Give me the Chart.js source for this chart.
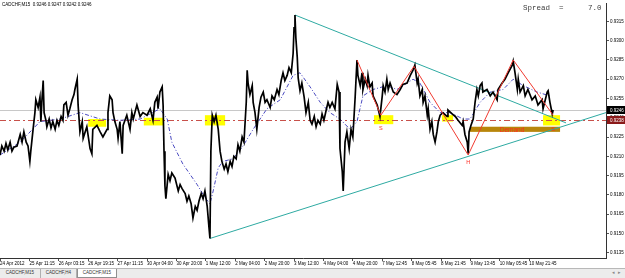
<!DOCTYPE html>
<html>
<head>
<meta charset="utf-8">
<script src="https://cdn.jsdelivr.net/npm/chart.js@4.4.0/dist/chart.umd.min.js"></script>
<style>
  html, body { margin: 0; padding: 0; background: #fff; }
  #wrap { position: relative; width: 625px; height: 278px; overflow: hidden; }
  canvas { display: block; }
  #tabs { position: absolute; left: 0; top: 268px; width: 625px; height: 10px; background: #ececec; border-top: 1px solid #b8b8b8; box-sizing: border-box; font: 4.5px "Liberation Sans", Arial, sans-serif; color: #333; }
  .tab { position: absolute; top: 0; height: 9px; line-height: 8px; text-align: center; border-right: 1px solid #b0b0b0; box-sizing: border-box; }
  .tab.active { background: #fff; border: 1px solid #909090; border-top: none; }
  #arrows { position: absolute; right: 4px; top: 0; line-height: 8px; color: #888; }
</style>
</head>
<body>
<div id="wrap">
  <canvas id="chart" width="625" height="268"></canvas>
  <div id="tabs">
    <div class="tab" style="left:0;width:41px">CADCHF,M15</div>
    <div class="tab" style="left:41px;width:36px">CADCHF,H4</div>
    <div class="tab active" style="left:77px;width:40px">CADCHF,M15</div>
    <div id="arrows">&#9666;&nbsp;&nbsp;&#9656;</div>
  </div>
</div>
<script>
// M15 bar labels on the time axis, one every 64 bars
const timeLabels = ['24 Apr 2012', '25 Apr 11:15', '26 Apr 03:15', '26 Apr 19:15', '27 Apr 11:15',
    '30 Apr 04:00', '30 Apr 20:00', '1 May 12:00', '2 May 04:00', '2 May 20:00', '3 May 12:00',
    '4 May 04:00', '4 May 20:00', '7 May 12:45', '8 May 05:45', '8 May 21:45', '9 May 13:45',
    '10 May 05:45', '10 May 21:45'];
const barsPerLabel = 64;
const priceTicks = [0.9135, 0.9150, 0.9165, 0.9180, 0.9195, 0.9210, 0.9225, 0.9240,
    0.9255, 0.9270, 0.9285, 0.9300, 0.9315];

// CADCHF price path (bar index / price)
const priceBars = [0, 4, 9, 13, 17, 22, 26, 30, 37, 41, 44, 48, 52, 57, 61, 65,
    67, 72, 76, 78, 83, 87, 89, 91, 94, 96, 100,
    102, 107, 111, 115, 120, 124, 128, 133, 137,
    139, 144, 148, 152, 157, 161, 163, 168, 170, 174,
    179, 181, 189, 196, 200, 202, 211, 218, 224, 233, 235, 239, 244, 246, 250,
    255, 257, 261, 266, 268, 276, 283, 287, 290, 298, 305, 311, 320, 327, 333, 337, 342, 344, 348, 353, 355,
    357, 359, 361, 366, 370, 374, 381, 388, 392, 396, 403, 407, 411, 416, 420, 425, 429, 433, 438, 442, 446, 451, 455, 457,
    459, 462, 466, 470, 475, 479, 483, 488, 492, 496, 501, 505, 509, 514, 518, 522, 527, 531,
    536, 538, 540, 544, 549, 551, 555, 559, 564, 568, 573, 577, 581, 588, 592, 597, 603, 607, 612, 616, 620, 625, 629, 634, 638, 640, 642, 644, 647, 649,
    653, 657, 662, 666, 671, 675, 679, 684, 688, 692, 697, 701, 705, 710, 714, 718, 723, 729, 734, 738, 740, 745, 747, 751, 755, 760, 764, 768, 773, 777,
    779, 784, 788, 790, 795, 799, 801, 805, 810, 812, 821, 827, 832, 834, 838, 842, 845, 849, 856, 864, 871,
    877, 886, 893, 899, 903, 908, 910, 914, 919, 921, 925, 930, 932, 936, 940, 943, 947, 951, 954, 958,
    964, 973, 975, 984, 991, 997, 1006, 1008, 1012, 1017, 1019, 1021, 1025,
    1030, 1034, 1038, 1041, 1045, 1049, 1051, 1060, 1067, 1073, 1082, 1084, 1093, 1099, 1106, 1115, 1117,
    1121, 1126, 1128, 1132, 1139, 1143, 1149, 1158, 1165, 1171, 1180, 1182, 1191, 1193, 1197, 1202, 1204];
const priceValues = [0.9211, 0.9218, 0.9214, 0.9220, 0.9215, 0.9221, 0.9214, 0.9217, 0.9218, 0.9223, 0.9227, 0.9221, 0.9229, 0.9221, 0.9218, 0.9206,
    0.9214, 0.9231, 0.9244, 0.9254, 0.9248, 0.9256, 0.9237, 0.9252, 0.9269, 0.9244, 0.9238,
    0.9233, 0.9239, 0.9232, 0.9237, 0.9231, 0.9238, 0.9234, 0.9241, 0.9238,
    0.9250, 0.9252, 0.9242, 0.9247, 0.9254, 0.9258, 0.9262, 0.9270, 0.9250, 0.9229,
    0.9237, 0.9224, 0.9233, 0.9216, 0.9212, 0.9231, 0.9234, 0.9229, 0.9225, 0.9231, 0.9244, 0.9257, 0.9254, 0.9244, 0.9237,
    0.9231, 0.9224, 0.9237, 0.9212, 0.9234, 0.9242, 0.9231, 0.9244, 0.9239, 0.9250, 0.9241, 0.9244, 0.9242, 0.9247, 0.9238, 0.9252, 0.9256, 0.9247, 0.9260, 0.9264, 0.9250,
    0.9214, 0.9187, 0.9177, 0.9196, 0.9191, 0.9197, 0.9193, 0.9183, 0.9188, 0.9185, 0.9181, 0.9175, 0.9179, 0.9173, 0.9162, 0.9171, 0.9168, 0.9175, 0.9181, 0.9177, 0.9183, 0.9171, 0.9154, 0.9146,
    0.9214, 0.9242, 0.9237, 0.9242, 0.9231, 0.9214, 0.9206, 0.9200, 0.9204, 0.9198, 0.9206, 0.9202, 0.9210, 0.9208, 0.9219, 0.9214, 0.9225, 0.9221,
    0.9252, 0.9277, 0.9267, 0.9258, 0.9265, 0.9252, 0.9244, 0.9231, 0.9248, 0.9256, 0.9260, 0.9252, 0.9254, 0.9248, 0.9257, 0.9254, 0.9262, 0.9258, 0.9269, 0.9275, 0.9269, 0.9273, 0.9279, 0.9275, 0.9290, 0.9310, 0.9320, 0.9302, 0.9287, 0.9271,
    0.9261, 0.9267, 0.9256, 0.9244, 0.9252, 0.9238, 0.9235, 0.9241, 0.9233, 0.9238, 0.9235, 0.9243, 0.9238, 0.9246, 0.9252, 0.9248, 0.9252, 0.9247, 0.9266, 0.9260, 0.9216, 0.9198, 0.9183, 0.9221, 0.9229, 0.9216, 0.9231, 0.9225, 0.9256, 0.9285,
    0.9273, 0.9265, 0.9275, 0.9262, 0.9270, 0.9265, 0.9273, 0.9264, 0.9267, 0.9257, 0.9250, 0.9241, 0.9257, 0.9265, 0.9260, 0.9270, 0.9262, 0.9267, 0.9260, 0.9258, 0.9262,
    0.9266, 0.9267, 0.9273, 0.9277, 0.9281, 0.9267, 0.9270, 0.9257, 0.9262, 0.9252, 0.9257, 0.9242, 0.9247, 0.9231, 0.9237, 0.9227, 0.9221, 0.9229, 0.9237, 0.9242,
    0.9244, 0.9241, 0.9246, 0.9243, 0.9241, 0.9238, 0.9234, 0.9237, 0.9227, 0.9221, 0.9212, 0.9229, 0.9234,
    0.9239, 0.9252, 0.9262, 0.9257, 0.9265, 0.9267, 0.9260, 0.9262, 0.9257, 0.9260, 0.9254, 0.9262, 0.9267, 0.9270, 0.9275, 0.9281, 0.9284,
    0.9275, 0.9262, 0.9270, 0.9260, 0.9265, 0.9257, 0.9262, 0.9254, 0.9257, 0.9250, 0.9254, 0.9247, 0.9260, 0.9261, 0.9252, 0.9243, 0.9246];

// moving average (blue dash-dot)
const maBars = [0, 44, 87, 131, 174, 218, 261, 305, 348, 364, 374, 398, 429, 446, 457, 464, 475, 485, 507, 529,
    551, 581, 610, 638, 653, 675, 697, 718, 740, 762, 777, 790, 812, 842, 864, 899, 914, 936, 958, 980,
    1008, 1023, 1045, 1067, 1095, 1117, 1139, 1169, 1197];
const maValues = [0.9211, 0.9221, 0.9237, 0.9239, 0.9244, 0.9239, 0.9238, 0.9239, 0.9247, 0.9239, 0.9221, 0.9204, 0.9188, 0.9178, 0.9173, 0.9183, 0.9201, 0.9206, 0.9208, 0.9218,
    0.9231, 0.9247, 0.9254, 0.9273, 0.9275, 0.9264, 0.9252, 0.9244, 0.9239, 0.9231, 0.9237, 0.9257, 0.9262, 0.9265, 0.9262, 0.9270, 0.9267, 0.9252, 0.9244, 0.9244,
    0.9239, 0.9239, 0.9252, 0.9260, 0.9262, 0.9270, 0.9265, 0.9260, 0.9257];

// zigzag swing points (red)
const zigzagBars = [777, 829, 901, 1019, 1117, 1204];
const zigzagValues = [0.9285, 0.9242, 0.9280, 0.9211, 0.9285, 0.9242];

// triangle trend lines (teal)
const trendTopBars = [642, 1232];
const trendTopValues = [0.9320, 0.9236];
const trendLowBars = [457, 1319];
const trendLowValues = [0.9146, 0.9244];

// marked zones: [fromBar, toBar, upperPrice, lowerPrice]
const yellowZones = [[192, 231, 0.9239, 0.9233], [313, 355, 0.9240, 0.9234], [446, 490, 0.9242, 0.9234],
    [814, 856, 0.9242, 0.9235], [962, 986, 0.9242, 0.9237], [1182, 1219, 0.9242, 0.9234]];
const demandZone = [1023, 1219, 0.9233, 0.9229];
const patternMarks = [['S', 829, 0.9232], ['H', 1019, 0.9205], ['S', 1204, 0.9231]];

const bidPrice = 0.9246;
const levelPrice = 0.9238;
const ohlc = ['0.9246', '0.9247', '0.9242', '0.9246'];

const FONT = '"Liberation Sans", Arial, sans-serif';
const toPoints = (xs, ys) => xs.map((x, i) => ({ x: x, y: ys[i] }));

const overlay = {
    id: 'overlay',
    beforeDatasetsDraw(chart) {
        const { ctx, chartArea: a, scales: { x, y } } = chart;
        ctx.save();
        ctx.beginPath();
        ctx.rect(a.left, a.top, a.right - a.left, a.bottom - a.top);
        ctx.clip();

        // bid line
        let py = Math.round(y.getPixelForValue(bidPrice)) + 0.5;
        ctx.strokeStyle = '#c8c8c8';
        ctx.lineWidth = 1;
        ctx.beginPath(); ctx.moveTo(a.left, py); ctx.lineTo(a.right, py); ctx.stroke();

        // yellow boxes
        ctx.fillStyle = '#ffff00';
        yellowZones.forEach(z => {
            const x0 = x.getPixelForValue(z[0]), x1 = x.getPixelForValue(z[1]);
            const y0 = y.getPixelForValue(z[2]), y1 = y.getPixelForValue(z[3]);
            ctx.fillRect(x0, y0, x1 - x0, y1 - y0);
        });

        // demand zone
        ctx.fillStyle = '#b8860b';
        const dx0 = x.getPixelForValue(demandZone[0]), dx1 = x.getPixelForValue(demandZone[1]);
        const dy0 = y.getPixelForValue(demandZone[2]), dy1 = y.getPixelForValue(demandZone[3]);
        ctx.fillRect(dx0, dy0, dx1 - dx0, dy1 - dy0);

        // support level, dash-dot
        py = Math.round(y.getPixelForValue(levelPrice)) + 0.5;
        ctx.strokeStyle = '#c8504a';
        ctx.setLineDash([6, 3, 2, 3]);
        ctx.beginPath(); ctx.moveTo(a.left, py); ctx.lineTo(a.right, py); ctx.stroke();
        ctx.restore();
    },
    afterDraw(chart) {
        const { ctx, chartArea: a, scales: { x, y } } = chart;
        ctx.save();
        ctx.textBaseline = 'middle';

        // pattern letters and zone text
        ctx.fillStyle = '#ff2a20';
        ctx.font = '5.5px ' + FONT;
        ctx.textAlign = 'center';
        patternMarks.forEach(m => ctx.fillText(m[0], x.getPixelForValue(m[1]), y.getPixelForValue(m[2])));
        ctx.font = '6.5px ' + FONT;
        ctx.fillText('Demand', x.getPixelForValue((demandZone[0] + demandZone[1]) / 2) - 3,
            y.getPixelForValue((demandZone[2] + demandZone[3]) / 2) + 0.5);

        // symbol line top left
        ctx.textAlign = 'left';
        ctx.fillStyle = '#000';
        ctx.font = '4.5px ' + FONT;
        ctx.fillText('CADCHF,M15  ' + ohlc.join(' '), 2, 5);

        // spread
        ctx.fillStyle = '#404040';
        ctx.font = '7.5px "Liberation Mono", "Courier New", monospace';
        ctx.fillText('Spread', 523, 8);
        ctx.fillText('=', 559, 8);
        ctx.fillText('7.0', 588, 8);

        // price tags on the axis
        const tag = (price, bg) => {
            const py = Math.round(y.getPixelForValue(price));
            ctx.fillStyle = bg;
            ctx.fillRect(a.right + 1, py - 4, 18, 8);
            ctx.fillStyle = '#fff';
            ctx.font = '4.5px ' + FONT;
            ctx.fillText(price.toFixed(4), a.right + 4, py + 0.5);
        };
        tag(levelPrice, '#8b1a1a');
        tag(bidPrice, '#000');
        ctx.restore();
    }
};

const line = (label, xs, ys, color, width, dash, order) => ({
    label: label,
    data: toPoints(xs, ys),
    borderColor: color,
    borderWidth: width,
    borderDash: dash,
    pointRadius: 0,
    tension: 0,
    fill: false,
    order: order
});

new Chart(document.getElementById('chart'), {
    type: 'line',
    data: {
        datasets: [
            line('ZigZag', zigzagBars, zigzagValues, '#f03a30', 1, [], 0),
            line('CADCHF', priceBars, priceValues, '#000', 1.7, [], 1),
            line('MA', maBars, maValues, '#4a4ac0', 1, [4, 2, 1, 2], 2),
            line('Trend top', trendTopBars, trendTopValues, '#2eaaa2', 1, [], 3),
            line('Trend low', trendLowBars, trendLowValues, '#2eaaa2', 1, [], 3)
        ]
    },
    options: {
        responsive: false,
        animation: false,
        events: [],
        layout: { padding: 0 },
        plugins: { legend: { display: false }, tooltip: { enabled: false } },
        scales: {
            x: {
                type: 'linear',
                min: 0,
                max: 1319,
                afterBuildTicks: s => { s.ticks = timeLabels.map((t, i) => ({ value: i * barsPerLabel })); },
                afterFit: s => { s.height = 10; },
                grid: { drawOnChartArea: false, tickLength: 3, color: '#555' },
                border: { color: '#333' },
                ticks: {
                    autoSkip: false, maxRotation: 0, align: 'start', padding: 0,
                    color: '#000', font: { family: FONT, size: 4.5 },
                    callback: (v, i) => timeLabels[i]
                }
            },
            y: {
                position: 'right',
                min: 0.91308,
                max: 0.93288,
                afterBuildTicks: s => { s.ticks = priceTicks.map(v => ({ value: v })); },
                afterFit: s => { s.width = 19; },
                grid: { drawOnChartArea: false, tickLength: 3, color: '#555' },
                border: { color: '#333' },
                ticks: {
                    padding: 1, color: '#000', font: { family: FONT, size: 4.5 },
                    callback: v => v.toFixed(4)
                }
            }
        }
    },
    plugins: [overlay]
});
</script>
</body>
</html>
